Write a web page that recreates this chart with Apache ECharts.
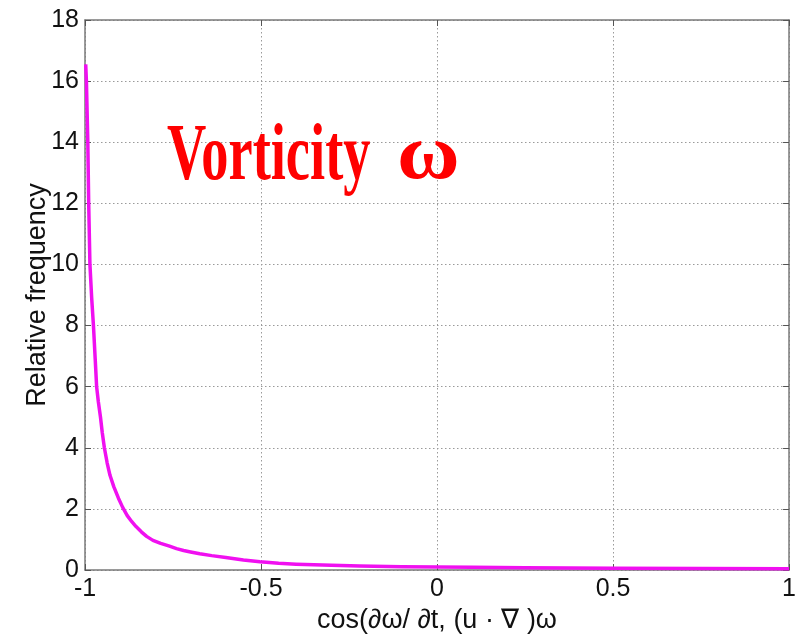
<!DOCTYPE html>
<html>
<head>
<meta charset="utf-8">
<script src="https://cdn.jsdelivr.net/npm/echarts@6/dist/echarts.min.js"></script>
<style>html,body{margin:0;padding:0;background:#fff}#c{width:799px;height:639px}</style>
</head>
<body>
<div id="c"></div>
<script>
var xTicks = [-1, -0.5, 0, 0.5, 1];
var yTicks = [0, 2, 4, 6, 8, 10, 12, 14, 16, 18];
var cosValues = [-0.998, -0.996, -0.992, -0.9895, -0.986, -0.981, -0.976, -0.971, -0.967, -0.962, -0.956, -0.951, -0.945, -0.937, -0.929, -0.918, -0.905, -0.893, -0.88, -0.867, -0.855, -0.84, -0.825, -0.807, -0.785, -0.76, -0.74, -0.72, -0.7, -0.674, -0.64, -0.6, -0.55, -0.503, -0.45, -0.4, -0.3, -0.22, -0.1, 0, 0.1, 0.25, 0.5, 0.75, 1];
var relFreq = [16.55, 16, 14, 12, 10, 8.9, 8, 6.9, 6, 5.5, 5, 4.5, 4, 3.5, 3.1, 2.72, 2.35, 2.05, 1.78, 1.58, 1.42, 1.25, 1.1, 0.97, 0.87, 0.78, 0.7, 0.64, 0.59, 0.53, 0.47, 0.41, 0.33, 0.27, 0.22, 0.19, 0.155, 0.13, 0.11, 0.1, 0.09, 0.075, 0.06, 0.05, 0.04];
var xName = 'cos(\u2202\u03c9/ \u2202t, (u \u00b7 \u2207 )\u03c9';
var yName = 'Relative frequency';
var titleWord = 'Vorticity';
var titleSym = '\u03c9';

var chart = echarts.init(document.getElementById('c'), null, {renderer: 'canvas'});
var axisLine = {show: true, onZero: false, lineStyle: {color: '#7a7a7a', width: 1.5}};
var tick = {show: true, inside: true, length: 6, lineStyle: {color: '#555'}};
var split = {show: true, lineStyle: {color: '#9a9a9a', type: [1.5, 2.5], width: 1}};
var font = 'Liberation Sans';
chart.setOption({
  animation: false,
  backgroundColor: '#fff',
  grid: {left: 85, top: 20, right: 9, bottom: 64},
  xAxis: [{
    type: 'value', min: xTicks[0], max: xTicks[xTicks.length-1], interval: 0.5,
    position: 'bottom',
    axisLine: axisLine, axisTick: tick, splitLine: split,
    axisLabel: {color: '#111', fontSize: 25, fontFamily: font, margin: 7},
    name: xName, nameLocation: 'middle', nameGap: 37, nameMoveOverlap: false,
    nameTextStyle: {color: '#111', fontSize: 27, fontFamily: font}
  }, {
    type: 'value', min: xTicks[0], max: xTicks[xTicks.length-1], interval: 0.5,
    position: 'top',
    axisLine: axisLine, axisTick: tick,
    splitLine: {show: false}, axisLabel: {show: false}
  }],
  yAxis: [{
    type: 'value', min: yTicks[0], max: yTicks[yTicks.length-1], interval: 2,
    position: 'left',
    axisLine: axisLine, axisTick: tick, splitLine: split,
    axisLabel: {color: '#111', fontSize: 25, fontFamily: font, margin: 6},
    name: yName, nameLocation: 'middle', nameGap: 34, nameRotate: 90, nameMoveOverlap: false,
    nameTextStyle: {color: '#111', fontSize: 27, fontFamily: font}
  }, {
    type: 'value', min: yTicks[0], max: yTicks[yTicks.length-1], interval: 2,
    position: 'right',
    axisLine: axisLine, axisTick: tick,
    splitLine: {show: false}, axisLabel: {show: false}
  }],
  series: [{
    type: 'line',
    xAxisIndex: 0, yAxisIndex: 0,
    data: cosValues.map(function (x, i) { return [x, relFreq[i]]; }),
    showSymbol: false,
    smooth: false,
    lineStyle: {color: '#f010f0', width: 3.5, join: 'round'},
    z: 5
  }],
  graphic: [{
    type: 'text', x: 167, y: 118, scaleX: 0.68,
    style: {text: titleWord, fill: '#ff0000', font: 'bold 80px "Liberation Serif"'},
    z: 10
  }, {
    type: 'text', x: 397, y: 119, scaleX: 1.1,
    style: {text: titleSym, fill: '#ff0000', font: 'bold 78px "Liberation Serif"'},
    z: 10
  }]
});
</script>
</body>
</html>
